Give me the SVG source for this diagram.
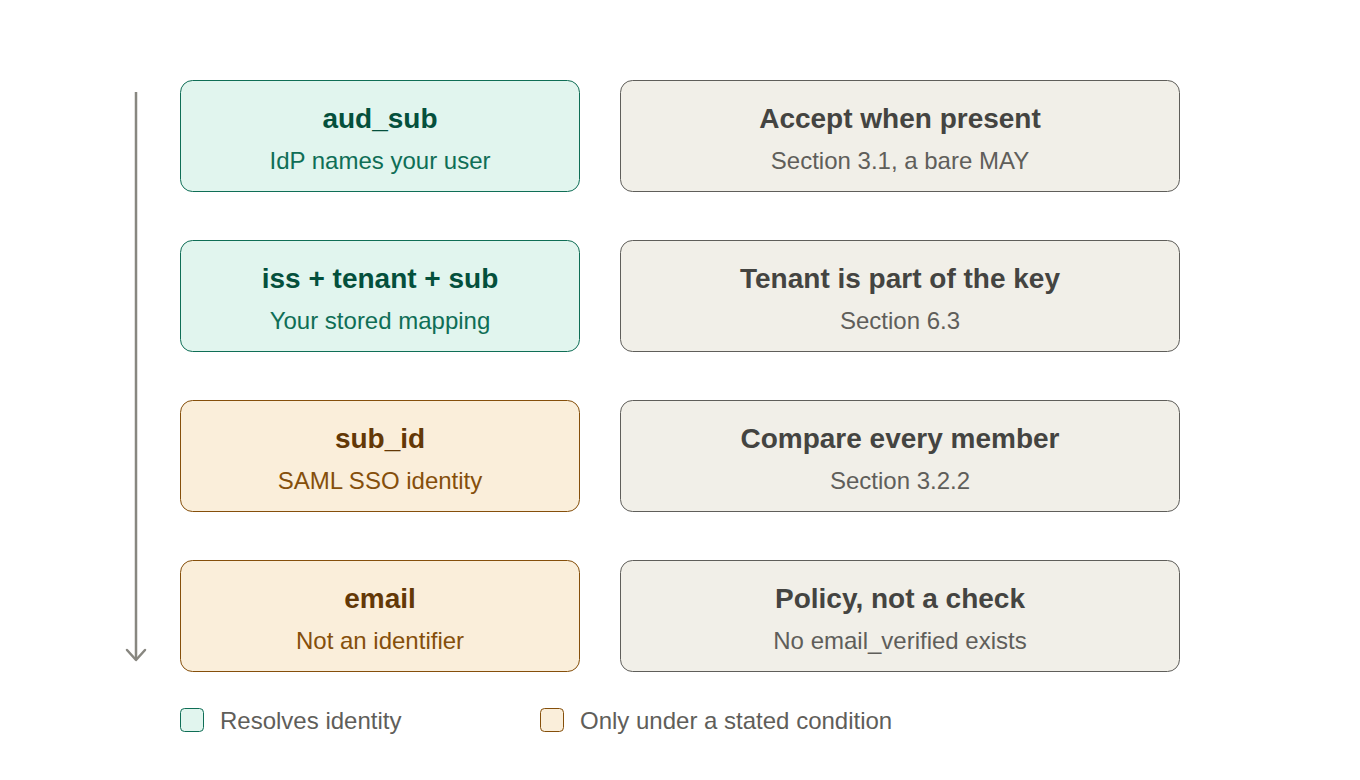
<svg xmlns="http://www.w3.org/2000/svg" width="1360" height="780" viewBox="0 0 1360 780">
<style>
text{font-family:"Liberation Sans",Arial,sans-serif;text-anchor:middle}
.t{font-size:28px;font-weight:bold}
.s{font-size:24px}
.g rect{fill:#e1f5ee;stroke:#0f6e56;stroke-width:1}
.g .t{fill:#04503c}.g .s{fill:#0f6e56}
.o rect{fill:#faeeda;stroke:#854f0b;stroke-width:1}
.o .t{fill:#633806}.o .s{fill:#854f0b}
.n rect{fill:#f1efe8;stroke:#5f5e5a;stroke-width:1}
.n .t{fill:#444441}.n .s{fill:#5f5e5a}
.lg{font-size:24px;fill:#5f5e5a;text-anchor:start}
</style>
<rect width="1360" height="780" fill="#ffffff"/>
<g id="connectors">
<line x1="136" y1="92" x2="136" y2="659" stroke="#888780" stroke-width="2.5"/>
<polyline points="127,650 136,660 145,650" fill="none" stroke="#888780" stroke-width="2.5" stroke-linecap="round" stroke-linejoin="round"/>
</g>
<g id="aud_sub" class="g"><rect x="180.5" y="80.5" width="399" height="111" rx="12"/><text class="t" x="380" y="128">aud_sub</text><text class="s" x="380" y="169">IdP names your user</text></g>
<g id="accept" class="n"><rect x="620.5" y="80.5" width="559" height="111" rx="12"/><text class="t" x="900" y="128">Accept when present</text><text class="s" x="900" y="169">Section 3.1, a bare MAY</text></g>
<g id="iss_tenant_sub" class="g"><rect x="180.5" y="240.5" width="399" height="111" rx="12"/><text class="t" x="380" y="288">iss + tenant + sub</text><text class="s" x="380" y="329">Your stored mapping</text></g>
<g id="tenant_key" class="n"><rect x="620.5" y="240.5" width="559" height="111" rx="12"/><text class="t" x="900" y="288">Tenant is part of the key</text><text class="s" x="900" y="329">Section 6.3</text></g>
<g id="sub_id" class="o"><rect x="180.5" y="400.5" width="399" height="111" rx="12"/><text class="t" x="380" y="448">sub_id</text><text class="s" x="380" y="489">SAML SSO identity</text></g>
<g id="compare" class="n"><rect x="620.5" y="400.5" width="559" height="111" rx="12"/><text class="t" x="900" y="448">Compare every member</text><text class="s" x="900" y="489">Section 3.2.2</text></g>
<g id="email" class="o"><rect x="180.5" y="560.5" width="399" height="111" rx="12"/><text class="t" x="380" y="608">email</text><text class="s" x="380" y="649">Not an identifier</text></g>
<g id="policy" class="n"><rect x="620.5" y="560.5" width="559" height="111" rx="12"/><text class="t" x="900" y="608">Policy, not a check</text><text class="s" x="900" y="649">No email_verified exists</text></g>
<g id="legend">
<g class="g"><rect x="180.5" y="708.5" width="23" height="23" rx="4"/></g>
<text class="lg" x="220" y="729">Resolves identity</text>
<g class="o"><rect x="540.5" y="708.5" width="23" height="23" rx="4"/></g>
<text class="lg" x="580" y="729">Only under a stated condition</text>
</g>
</svg>
